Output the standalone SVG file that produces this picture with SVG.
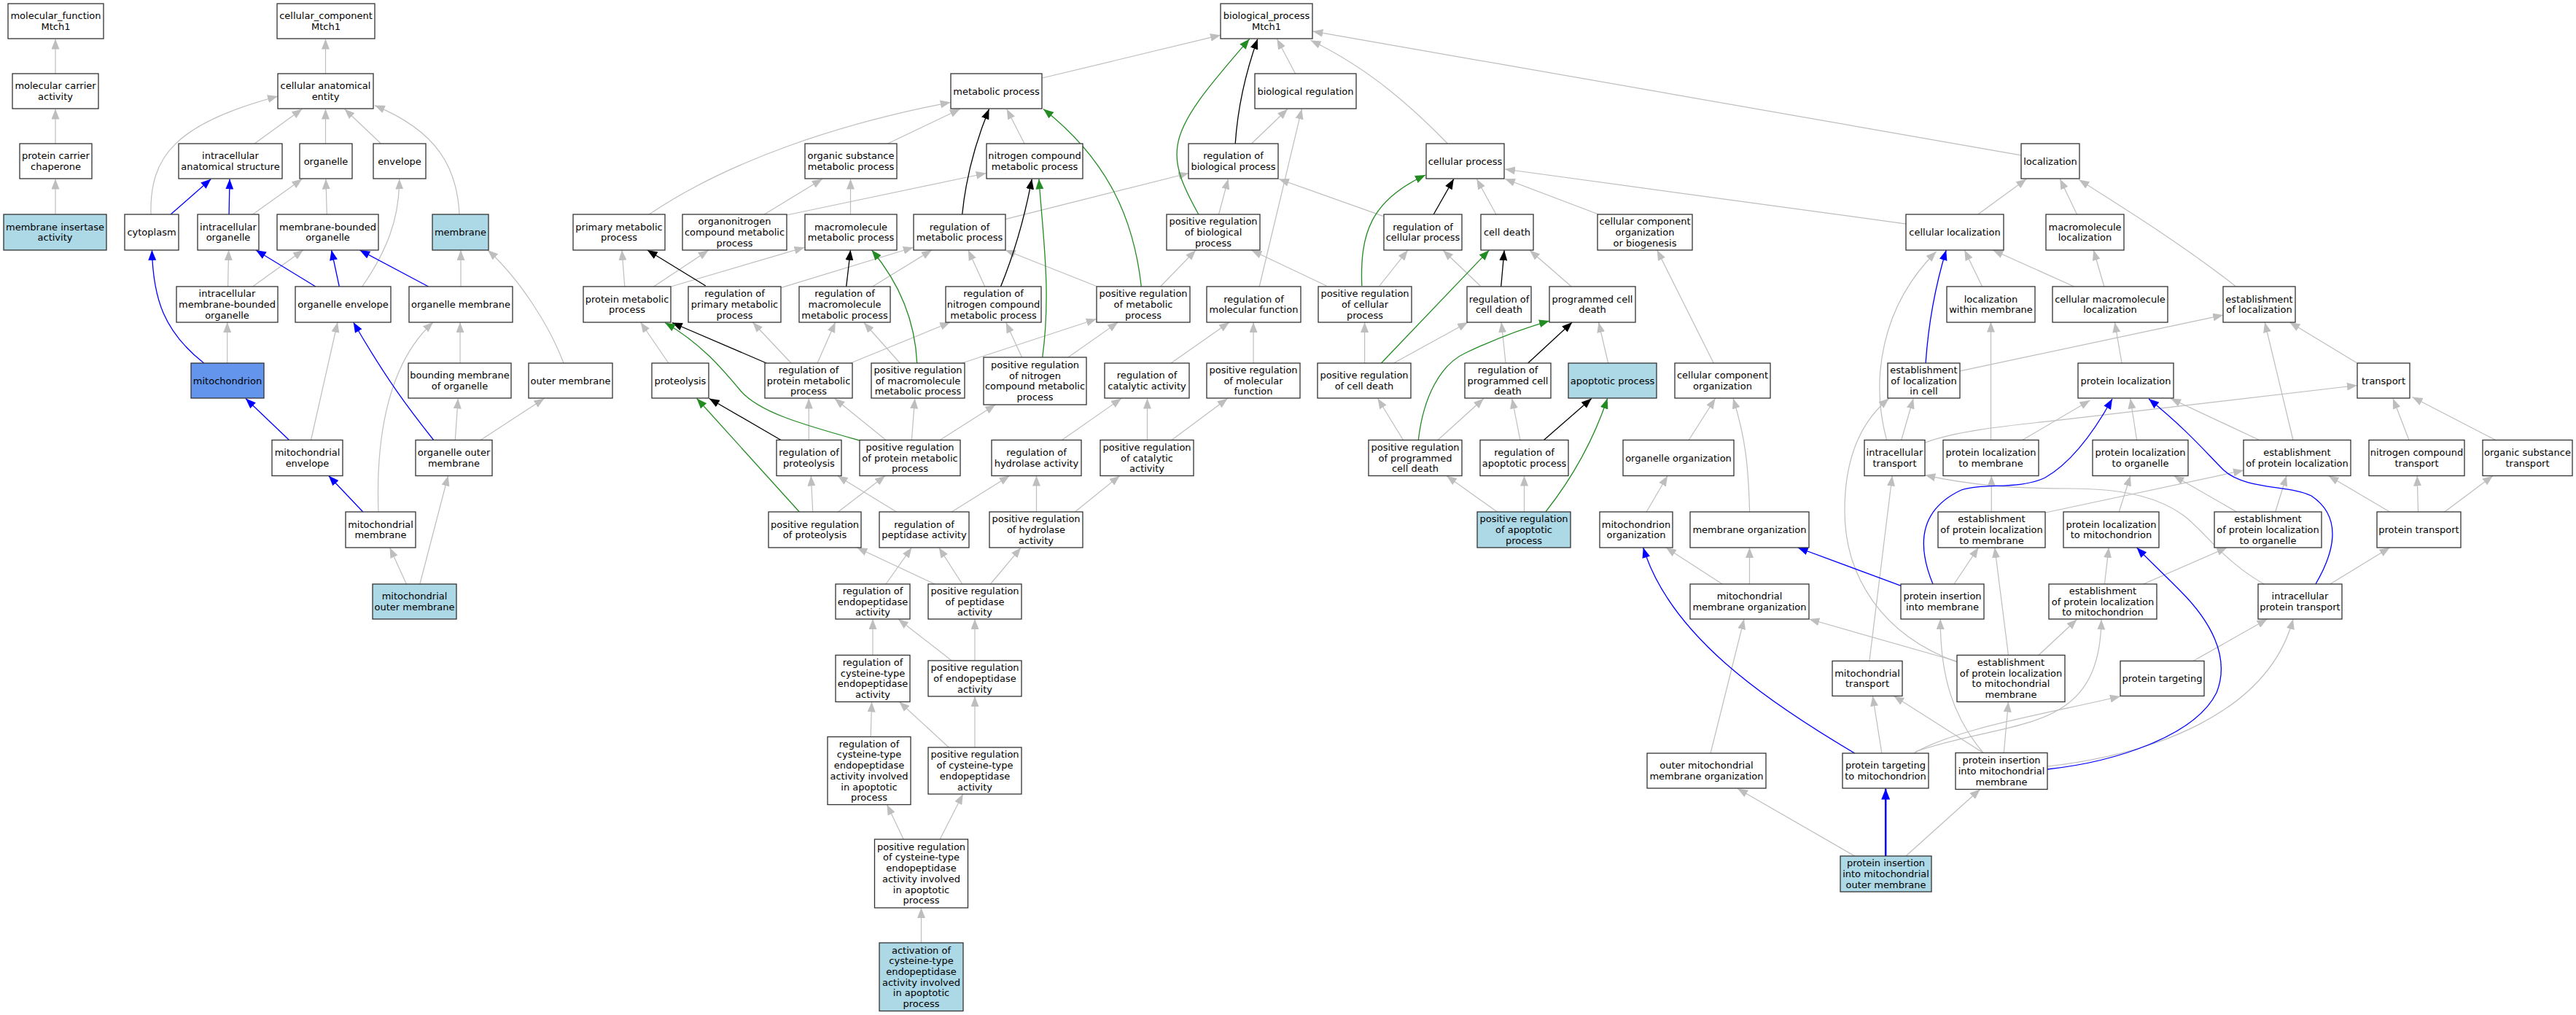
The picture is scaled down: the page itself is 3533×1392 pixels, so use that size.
<svg xmlns="http://www.w3.org/2000/svg" width="3533" height="1392" viewBox="0 0 3533 1392">
<defs>
<marker id="mg" markerUnits="userSpaceOnUse" markerWidth="14" markerHeight="11" refX="14" refY="5.5" orient="auto"><path d="M0,0 L14,5.5 L0,11 Z" fill="#bebebe"/></marker>
<marker id="mb" markerUnits="userSpaceOnUse" markerWidth="14" markerHeight="11" refX="14" refY="5.5" orient="auto"><path d="M0,0 L14,5.5 L0,11 Z" fill="#0000ff"/></marker>
<marker id="mb2" markerUnits="userSpaceOnUse" markerWidth="15" markerHeight="12" refX="15" refY="6" orient="auto"><path d="M0,0 L15,6 L0,12 Z" fill="#0000ff"/></marker>
<marker id="mk" markerUnits="userSpaceOnUse" markerWidth="14" markerHeight="11" refX="14" refY="5.5" orient="auto"><path d="M0,0 L14,5.5 L0,11 Z" fill="#000000"/></marker>
<marker id="mgr" markerUnits="userSpaceOnUse" markerWidth="14" markerHeight="11" refX="14" refY="5.5" orient="auto"><path d="M0,0 L14,5.5 L0,11 Z" fill="#228b22"/></marker>
</defs>
<style>
.gray path{fill:none;stroke:#bebebe;stroke-width:1.2;marker-end:url(#mg)}
.blue path{fill:none;stroke:#0000ff;stroke-width:1.3;marker-end:url(#mb)}
.blue path.thick{stroke-width:2.5;marker-end:url(#mb2)}
.black path{fill:none;stroke:#000;stroke-width:1.3;marker-end:url(#mk)}
.green path{fill:none;stroke:#228b22;stroke-width:1.3;marker-end:url(#mgr)}
.node rect{fill:#fff;stroke:#333;stroke-width:1.3}
.node.lb rect{fill:#add8e6}
.node.cb rect{fill:#6495ed}
text{font-family:"DejaVu Sans","Liberation Sans",sans-serif;font-size:13px;text-anchor:middle;fill:#000}
</style>
<rect x="0" y="0" width="3533" height="1392" fill="#fff"/>
<g id="connectors">
<g class="gray">
<path d="M76,294 L76,245.5"/>
<path d="M76,197 L76,149.5"/>
<path d="M76,101 L76,53.5"/>
<path d="M446.5,101 L446.5,53.5"/>
<path d="M207,294 C205,215 240,170 381,132"/>
<path d="M349,197 L414.4,149.5"/>
<path d="M446.5,197 L446.5,149.5"/>
<path d="M522.5,197 L472.6,149.5"/>
<path d="M630,294 C627,230 600,180 513.8,144.6"/>
<path d="M346.6,294 L414.4,245.5"/>
<path d="M448.3,294 L446.9,245.5"/>
<path d="M496.8,393 C530,345 548,300 547.7,245.5"/>
<path d="M312.6,393 L313.6,343"/>
<path d="M346.6,393 L415.9,343"/>
<path d="M632,393 L632,343"/>
<path d="M773,498 C755,450 715,385 669,343"/>
<path d="M311.7,498 L311.7,442"/>
<path d="M426.5,603.5 L463,442"/>
<path d="M519,702 C516,620 525,505 594,442"/>
<path d="M557.4,801 L534.6,751"/>
<path d="M575.8,801 L614.6,652.5"/>
<path d="M624.3,603.5 L628.2,546.5"/>
<path d="M659.2,603.5 L746.4,546.5"/>
<path d="M631,498 L631,442"/>
<path d="M890.3,294 C1000,220 1150,170 1303.7,140.3"/>
<path d="M1217.4,197 L1316.8,149.5"/>
<path d="M1405,197 L1380.8,149.5"/>
<path d="M1429.3,107 L1674,48.2"/>
<path d="M1048.3,294 L1127.8,245.5"/>
<path d="M1078.8,295 L1352.7,237.5"/>
<path d="M1166.5,294 L1166.5,245.5"/>
<path d="M1378.8,300.7 L1630.3,237.5"/>
<path d="M856.8,393 L852.9,343"/>
<path d="M896.6,393 L971.7,343.2"/>
<path d="M920.3,393 L1103.5,339.2"/>
<path d="M1071,394.6 L1252.8,339.2"/>
<path d="M1196.6,393 L1278,343"/>
<path d="M1350.7,393 L1327.9,343"/>
<path d="M1503.8,392.5 L1378.8,343"/>
<path d="M1319.2,498 L1503.8,437.5"/>
<path d="M1464.6,490.3 L1533.3,442"/>
<path d="M1234.4,498 L1185,442.5"/>
<path d="M1401.6,490.3 L1379.8,442.5"/>
<path d="M1085.1,498 L1032.3,442"/>
<path d="M1121,498 L1145.7,442"/>
<path d="M1166.5,498 L1303.2,442"/>
<path d="M916.9,498 L878.6,442"/>
<path d="M1109.3,603.5 L1109.3,546.5"/>
<path d="M1215,603.5 L1144.7,546.5"/>
<path d="M1250.4,603.5 L1254.7,546.5"/>
<path d="M1289.2,603.5 L1365.3,555"/>
<path d="M1456.4,603.5 L1538,546.5"/>
<path d="M1114.7,702 L1112.3,652.5"/>
<path d="M1149.6,702 L1214,652.5"/>
<path d="M1229.5,702 L1148.6,652.5"/>
<path d="M1305.2,702 L1384.6,652.5"/>
<path d="M1421.5,702 L1421.5,652.5"/>
<path d="M1474.3,702 L1535.7,652.5"/>
<path d="M1215,801 L1250.4,751"/>
<path d="M1281.9,801 L1175.3,751"/>
<path d="M1319.7,801 L1287.7,751"/>
<path d="M1358.5,801 L1400.2,751"/>
<path d="M1197,898.5 L1197,849"/>
<path d="M1305.2,906 L1232,849"/>
<path d="M1337,906 L1337,849"/>
<path d="M1194.2,1010.5 L1195.6,962.5"/>
<path d="M1301.3,1025 L1233.4,962.5"/>
<path d="M1337,1025 L1337,955"/>
<path d="M1239.2,1151 L1216.5,1103.5"/>
<path d="M1289.2,1151 L1320.7,1089"/>
<path d="M1263.5,1293 L1263.5,1245"/>
<path d="M1776.6,101 L1751.4,53.5"/>
<path d="M1985.5,197 C1940,150 1880,95 1797.5,55.3"/>
<path d="M2771.5,212.8 L1800.4,42.9"/>
<path d="M1716.5,197 L1766,149.5"/>
<path d="M1727.2,393 L1785.4,149.5"/>
<path d="M1671.5,294 L1684.5,245.5"/>
<path d="M1591.5,393 L1640,343.2"/>
<path d="M1819.3,392 L1716.5,343.2"/>
<path d="M1896.8,296.4 L1753.9,245.5"/>
<path d="M2051.9,294 L2025.3,245.5"/>
<path d="M2192.5,294 L2064,245.3"/>
<path d="M2614.4,307.1 L2064,232"/>
<path d="M1892,392 L1930.8,343.2"/>
<path d="M2030.1,392 L1979.2,343.2"/>
<path d="M2155.2,393 L2098,343.2"/>
<path d="M1871.6,498 L1871.6,442"/>
<path d="M1911.4,498 L2013.2,442"/>
<path d="M2065,498 L2059.2,442"/>
<path d="M2205.6,498 L2192.5,442"/>
<path d="M1719,498 L1719,442"/>
<path d="M1606,498 L1686,442"/>
<path d="M1573.5,603.5 L1573.5,546.5"/>
<path d="M1607,603.5 L1683.6,546.5"/>
<path d="M1924.5,603.5 L1889.6,546.5"/>
<path d="M1972,603.5 L2035,546.5"/>
<path d="M2084.9,603.5 L2073.8,546.5"/>
<path d="M2053.4,702 L1984,652.5"/>
<path d="M2090.5,702 L2090.5,652.5"/>
<path d="M2350.3,498 L2272.7,343"/>
<path d="M2712.8,294 L2779.2,245.5"/>
<path d="M2848.5,294 L2825.3,245.5"/>
<path d="M3066.5,393 C3000,340 2920,290 2851.4,246.4"/>
<path d="M2718.6,393 L2694.4,343"/>
<path d="M2844.7,393 L2733.2,343"/>
<path d="M2885.9,393 L2871.3,343"/>
<path d="M2587.6,603.5 C2565,520 2580,420 2655.6,345"/>
<path d="M2688.1,508.9 L3049.2,432.1"/>
<path d="M2910.1,498 L2900.4,442"/>
<path d="M3232.9,498 L3140.4,442"/>
<path d="M2640.3,607 C2680,592 2740,585 2820,576.7 L3232.9,528.5"/>
<path d="M2773.7,603.5 L2866.5,549"/>
<path d="M2930.6,603.5 L2921.8,546.5"/>
<path d="M3098.6,603.5 L2977,546.5"/>
<path d="M3145,603.5 L3106.2,442"/>
<path d="M3304,603.5 L3282,546.5"/>
<path d="M3422.6,603.5 L3308.5,544.5"/>
<path d="M2906.3,702 L2921.8,652.5"/>
<path d="M3067.6,702 L2981.4,652.5"/>
<path d="M2805.4,703 L3077,645"/>
<path d="M3120.7,702 L3136,652.5"/>
<path d="M3277.6,702 L3193.6,652.5"/>
<path d="M3316.5,702 L3315.2,652.5"/>
<path d="M3352.7,702 L3419,652.5"/>
<path d="M3195.8,801 L3277.6,751"/>
<path d="M2939.5,801 L3054.4,751"/>
<path d="M2886.4,801 L2892.2,751"/>
<path d="M2808,1051 C2950,1035 3110,980 3145,849"/>
<path d="M3008,906.5 L3109.6,849"/>
<path d="M2625,1033 C2680,1000 2800,980 2908,955"/>
<path d="M2626.4,1031 C2760,985 2880,1010 2882,849.5"/>
<path d="M2796,898.5 L2848.5,849.5"/>
<path d="M3105.2,801 C3050,770 3025,730 2995,707 C2965,685 2920,670 2840,670 C2760,670 2700,665 2640.3,651.6"/>
<path d="M2730.5,603.5 L2730.5,441.5"/>
<path d="M2731.3,702 L2731.3,652.5"/>
<path d="M2607.7,603.5 L2624.2,546.5"/>
<path d="M2684.4,908.3 C2580,870 2530,790 2530,700 C2530,630 2550,580 2590.7,546.5"/>
<path d="M2316.2,603.5 L2352.5,546.5"/>
<path d="M2399.6,702 C2398,640 2394,600 2377,546.5"/>
<path d="M2258.1,702 L2287.1,652.5"/>
<path d="M2362.1,801 L2284.9,751"/>
<path d="M2399.5,801 L2399.5,751"/>
<path d="M2680,801 L2713.4,751"/>
<path d="M2684.4,907 L2481.3,849"/>
<path d="M2754.5,898.5 L2735.8,751"/>
<path d="M2346,1033 L2392,849"/>
<path d="M2580.9,1033 L2568.4,954.5"/>
<path d="M2563.9,906.5 L2595.2,652.5"/>
<path d="M2720.1,1032.5 L2597.4,954.5"/>
<path d="M2720.1,1032.5 C2680,985 2661,930 2661.2,849"/>
<path d="M2748.3,1032.5 L2754.5,962.5"/>
<path d="M2543.8,1174 L2383.1,1081.5"/>
<path d="M2613.9,1174 L2715.7,1082.5"/>
</g>
<g class="blue">
<path d="M279.7,498 C225,455 210,410 208.4,343"/>
<path d="M234.1,294 L289.4,245.5"/>
<path d="M314.1,294 L315,245.5"/>
<path d="M432.8,393 L350.9,343"/>
<path d="M465.3,393 L454.6,343"/>
<path d="M587.5,393 L493.4,343"/>
<path d="M396.5,603.5 L336.9,546.5"/>
<path d="M594.7,603.5 C560,560 530,520 484.7,442"/>
<path d="M497.8,702 L450.8,652.5"/>
<path d="M2641.1,498 C2645,440 2655,390 2669.2,343"/>
<path d="M2651,801 C2630,750 2630,700 2690,672 C2720,662 2770,672 2805,655 C2840,635 2872,592 2897,547"/>
<path d="M3175.9,801 C3200,760 3215,710 3170,680 C3140,665 3080,672 3050,645 C3025,620 3000,590 2947,547"/>
<path d="M2808,1055 C2900,1045 3010,1010 3040,950 C3060,900 3030,850 2990,810 C2960,780 2945,766 2930.6,751"/>
<path d="M2607.2,803.4 L2465.7,751"/>
<path d="M2543.8,1033 C2420,960 2290,870 2253.7,751"/>
<path class="thick" d="M2586.2,1174 L2586.2,1081.5"/>
</g>
<g class="black">
<path d="M1319.7,294 C1325,240 1340,190 1356.5,149.5"/>
<path d="M967.8,392 L887.8,343"/>
<path d="M1160.7,393 L1166.5,343"/>
<path d="M1372.5,393 C1390,350 1405,300 1415.2,245.5"/>
<path d="M1051.2,498 L921.8,442.5"/>
<path d="M1071,603.5 L972.7,546.5"/>
<path d="M1694.2,197 C1698,140 1710,95 1724.8,53.5"/>
<path d="M1966.2,294 L1993.8,245.5"/>
<path d="M2058.7,393 L2063.1,343.2"/>
<path d="M2095.6,498 L2156.2,442"/>
<path d="M2117.4,603.5 L2182.8,546.5"/>
</g>
<g class="green">
<path d="M1565.3,393 C1555,300 1520,220 1431,149.5"/>
<path d="M1257.7,498 C1255,440 1235,390 1195.6,343"/>
<path d="M1429.7,490.3 C1442,400 1430,320 1424.9,245.5"/>
<path d="M1178.7,604 C1100,582 1040,565 1015,535 C990,505 960,470 912,442.5"/>
<path d="M1096.3,702 L955.7,546.5"/>
<path d="M1643.8,294 C1625,260 1610,230 1615,200 C1620,160 1665,110 1713.6,53.5"/>
<path d="M1867.8,392 C1865,320 1880,275 1955,240"/>
<path d="M1894.4,498 L2042.3,343.2"/>
<path d="M1945.3,603.5 C1952,545 1975,500 2010,484 C2050,465 2090,450 2125,440"/>
<path d="M2119.8,702 C2145,670 2180,620 2204.6,546.5"/>
</g>
</g>
<g id="n1" class="node"><rect x="11" y="5" width="131" height="48"/><text x="76.5" y="26.15">molecular_function<tspan x="76.5" dy="14.7">Mtch1</tspan></text></g>
<g id="n2" class="node"><rect x="380" y="5" width="134" height="48"/><text x="447" y="26.15">cellular_component<tspan x="447" dy="14.7">Mtch1</tspan></text></g>
<g id="n3" class="node"><rect x="1674" y="5" width="126" height="48"/><text x="1737" y="26.15">biological_process<tspan x="1737" dy="14.7">Mtch1</tspan></text></g>
<g id="n4" class="node"><rect x="17" y="101" width="118" height="48"/><text x="76" y="122.15">molecular carrier<tspan x="76" dy="14.7">activity</tspan></text></g>
<g id="n5" class="node"><rect x="381" y="101" width="131" height="48"/><text x="446.5" y="122.15">cellular anatomical<tspan x="446.5" dy="14.7">entity</tspan></text></g>
<g id="n6" class="node"><rect x="1304" y="101" width="125" height="48"/><text x="1366.5" y="129.5">metabolic process</text></g>
<g id="n7" class="node"><rect x="1721" y="101" width="139" height="48"/><text x="1790.5" y="129.5">biological regulation</text></g>
<g id="n8" class="node"><rect x="27" y="197" width="99" height="48"/><text x="76.5" y="218.15">protein carrier<tspan x="76.5" dy="14.7">chaperone</tspan></text></g>
<g id="n9" class="node"><rect x="245" y="197" width="142" height="48"/><text x="316" y="218.15">intracellular<tspan x="316" dy="14.7">anatomical structure</tspan></text></g>
<g id="n10" class="node"><rect x="411" y="197" width="72" height="48"/><text x="447" y="225.5">organelle</text></g>
<g id="n11" class="node"><rect x="512" y="197" width="72" height="48"/><text x="548" y="225.5">envelope</text></g>
<g id="n12" class="node"><rect x="1104" y="197" width="126" height="48"/><text x="1167" y="218.15">organic substance<tspan x="1167" dy="14.7">metabolic process</tspan></text></g>
<g id="n13" class="node"><rect x="1353" y="197" width="132" height="48"/><text x="1419" y="218.15">nitrogen compound<tspan x="1419" dy="14.7">metabolic process</tspan></text></g>
<g id="n14" class="node"><rect x="1630" y="197" width="123" height="48"/><text x="1691.5" y="218.15">regulation of<tspan x="1691.5" dy="14.7">biological process</tspan></text></g>
<g id="n15" class="node"><rect x="1956" y="197" width="107" height="48"/><text x="2009.5" y="225.5">cellular process</text></g>
<g id="n16" class="node"><rect x="2772" y="197" width="80" height="48"/><text x="2812" y="225.5">localization</text></g>
<g id="n17" class="node lb"><rect x="5" y="294" width="141" height="49"/><text x="75.5" y="315.65">membrane insertase<tspan x="75.5" dy="14.7">activity</tspan></text></g>
<g id="n18" class="node"><rect x="171" y="294" width="74" height="49"/><text x="208" y="323">cytoplasm</text></g>
<g id="n19" class="node"><rect x="271" y="294" width="84" height="49"/><text x="313" y="315.65">intracellular<tspan x="313" dy="14.7">organelle</tspan></text></g>
<g id="n20" class="node"><rect x="380" y="294" width="139" height="49"/><text x="449.5" y="315.65">membrane-bounded<tspan x="449.5" dy="14.7">organelle</tspan></text></g>
<g id="n21" class="node lb"><rect x="593" y="294" width="77" height="49"/><text x="631.5" y="323">membrane</text></g>
<g id="n22" class="node"><rect x="786" y="294" width="126" height="49"/><text x="849" y="315.65">primary metabolic<tspan x="849" dy="14.7">process</tspan></text></g>
<g id="n23" class="node"><rect x="936" y="294" width="143" height="49"/><text x="1007.5" y="308.3">organonitrogen<tspan x="1007.5" dy="14.7">compound metabolic</tspan><tspan x="1007.5" dy="14.7">process</tspan></text></g>
<g id="n24" class="node"><rect x="1104" y="294" width="126" height="49"/><text x="1167" y="315.65">macromolecule<tspan x="1167" dy="14.7">metabolic process</tspan></text></g>
<g id="n25" class="node"><rect x="1253" y="294" width="126" height="49"/><text x="1316" y="315.65">regulation of<tspan x="1316" dy="14.7">metabolic process</tspan></text></g>
<g id="n26" class="node"><rect x="1600" y="294" width="128" height="49"/><text x="1664" y="308.3">positive regulation<tspan x="1664" dy="14.7">of biological</tspan><tspan x="1664" dy="14.7">process</tspan></text></g>
<g id="n27" class="node"><rect x="1898" y="294" width="107" height="49"/><text x="1951.5" y="315.65">regulation of<tspan x="1951.5" dy="14.7">cellular process</tspan></text></g>
<g id="n28" class="node"><rect x="2031" y="294" width="72" height="49"/><text x="2067" y="323">cell death</text></g>
<g id="n29" class="node"><rect x="2191" y="294" width="130" height="49"/><text x="2256" y="308.3">cellular component<tspan x="2256" dy="14.7">organization</tspan><tspan x="2256" dy="14.7">or biogenesis</tspan></text></g>
<g id="n30" class="node"><rect x="2614" y="294" width="134" height="49"/><text x="2681" y="323">cellular localization</text></g>
<g id="n31" class="node"><rect x="2806" y="294" width="107" height="49"/><text x="2859.5" y="315.65">macromolecule<tspan x="2859.5" dy="14.7">localization</tspan></text></g>
<g id="n32" class="node"><rect x="242" y="393" width="139" height="49"/><text x="311.5" y="407.3">intracellular<tspan x="311.5" dy="14.7">membrane-bounded</tspan><tspan x="311.5" dy="14.7">organelle</tspan></text></g>
<g id="n33" class="node"><rect x="405" y="393" width="131" height="49"/><text x="470.5" y="422">organelle envelope</text></g>
<g id="n34" class="node"><rect x="561" y="393" width="142" height="49"/><text x="632" y="422">organelle membrane</text></g>
<g id="n35" class="node"><rect x="800" y="393" width="120" height="49"/><text x="860" y="414.65">protein metabolic<tspan x="860" dy="14.7">process</tspan></text></g>
<g id="n36" class="node"><rect x="944" y="393" width="127" height="49"/><text x="1007.5" y="407.3">regulation of<tspan x="1007.5" dy="14.7">primary metabolic</tspan><tspan x="1007.5" dy="14.7">process</tspan></text></g>
<g id="n37" class="node"><rect x="1096" y="393" width="125" height="49"/><text x="1158.5" y="407.3">regulation of<tspan x="1158.5" dy="14.7">macromolecule</tspan><tspan x="1158.5" dy="14.7">metabolic process</tspan></text></g>
<g id="n38" class="node"><rect x="1297" y="393" width="131" height="49"/><text x="1362.5" y="407.3">regulation of<tspan x="1362.5" dy="14.7">nitrogen compound</tspan><tspan x="1362.5" dy="14.7">metabolic process</tspan></text></g>
<g id="n39" class="node"><rect x="1504" y="393" width="128" height="49"/><text x="1568" y="407.3">positive regulation<tspan x="1568" dy="14.7">of metabolic</tspan><tspan x="1568" dy="14.7">process</tspan></text></g>
<g id="n40" class="node"><rect x="1655" y="393" width="129" height="49"/><text x="1719.5" y="414.65">regulation of<tspan x="1719.5" dy="14.7">molecular function</tspan></text></g>
<g id="n41" class="node"><rect x="1808" y="393" width="128" height="49"/><text x="1872" y="407.3">positive regulation<tspan x="1872" dy="14.7">of cellular</tspan><tspan x="1872" dy="14.7">process</tspan></text></g>
<g id="n42" class="node"><rect x="2012" y="393" width="88" height="49"/><text x="2056" y="414.65">regulation of<tspan x="2056" dy="14.7">cell death</tspan></text></g>
<g id="n43" class="node"><rect x="2125" y="393" width="118" height="49"/><text x="2184" y="414.65">programmed cell<tspan x="2184" dy="14.7">death</tspan></text></g>
<g id="n44" class="node"><rect x="2670" y="393" width="121" height="49"/><text x="2730.5" y="414.65">localization<tspan x="2730.5" dy="14.7">within membrane</tspan></text></g>
<g id="n45" class="node"><rect x="2815" y="393" width="158" height="49"/><text x="2894" y="414.65">cellular macromolecule<tspan x="2894" dy="14.7">localization</tspan></text></g>
<g id="n46" class="node"><rect x="3049" y="393" width="99" height="49"/><text x="3098.5" y="414.65">establishment<tspan x="3098.5" dy="14.7">of localization</tspan></text></g>
<g id="n47" class="node cb"><rect x="262" y="498" width="100" height="48"/><text x="312" y="526.5">mitochondrion</text></g>
<g id="n48" class="node"><rect x="560" y="498" width="141" height="48"/><text x="630.5" y="519.15">bounding membrane<tspan x="630.5" dy="14.7">of organelle</tspan></text></g>
<g id="n49" class="node"><rect x="725" y="498" width="115" height="48"/><text x="782.5" y="526.5">outer membrane</text></g>
<g id="n50" class="node"><rect x="894" y="498" width="78" height="48"/><text x="933" y="526.5">proteolysis</text></g>
<g id="n51" class="node"><rect x="1049" y="498" width="120" height="48"/><text x="1109" y="511.8">regulation of<tspan x="1109" dy="14.7">protein metabolic</tspan><tspan x="1109" dy="14.7">process</tspan></text></g>
<g id="n52" class="node"><rect x="1195" y="498" width="128" height="48"/><text x="1259" y="511.8">positive regulation<tspan x="1259" dy="14.7">of macromolecule</tspan><tspan x="1259" dy="14.7">metabolic process</tspan></text></g>
<g id="n53" class="node"><rect x="1349" y="490" width="141" height="65"/><text x="1419.5" y="504.95">positive regulation<tspan x="1419.5" dy="14.7">of nitrogen</tspan><tspan x="1419.5" dy="14.7">compound metabolic</tspan><tspan x="1419.5" dy="14.7">process</tspan></text></g>
<g id="n54" class="node"><rect x="1515" y="498" width="116" height="48"/><text x="1573" y="519.15">regulation of<tspan x="1573" dy="14.7">catalytic activity</tspan></text></g>
<g id="n55" class="node"><rect x="1655" y="498" width="128" height="48"/><text x="1719" y="511.8">positive regulation<tspan x="1719" dy="14.7">of molecular</tspan><tspan x="1719" dy="14.7">function</tspan></text></g>
<g id="n56" class="node"><rect x="1807" y="498" width="128" height="48"/><text x="1871" y="519.15">positive regulation<tspan x="1871" dy="14.7">of cell death</tspan></text></g>
<g id="n57" class="node"><rect x="2009" y="498" width="118" height="48"/><text x="2068" y="511.8">regulation of<tspan x="2068" dy="14.7">programmed cell</tspan><tspan x="2068" dy="14.7">death</tspan></text></g>
<g id="n58" class="node lb"><rect x="2151" y="498" width="121" height="48"/><text x="2211.5" y="526.5">apoptotic process</text></g>
<g id="n59" class="node"><rect x="2297" y="498" width="131" height="48"/><text x="2362.5" y="519.15">cellular component<tspan x="2362.5" dy="14.7">organization</tspan></text></g>
<g id="n60" class="node"><rect x="2589" y="498" width="99" height="48"/><text x="2638.5" y="511.8">establishment<tspan x="2638.5" dy="14.7">of localization</tspan><tspan x="2638.5" dy="14.7">in cell</tspan></text></g>
<g id="n61" class="node"><rect x="2850" y="498" width="131" height="48"/><text x="2915.5" y="526.5">protein localization</text></g>
<g id="n62" class="node"><rect x="3233" y="498" width="72" height="48"/><text x="3269" y="526.5">transport</text></g>
<g id="n63" class="node"><rect x="373" y="603.5" width="97" height="49"/><text x="421.5" y="625.15">mitochondrial<tspan x="421.5" dy="14.7">envelope</tspan></text></g>
<g id="n64" class="node"><rect x="570" y="603.5" width="105" height="49"/><text x="622.5" y="625.15">organelle outer<tspan x="622.5" dy="14.7">membrane</tspan></text></g>
<g id="n65" class="node"><rect x="1065" y="603.5" width="89" height="49"/><text x="1109.5" y="625.15">regulation of<tspan x="1109.5" dy="14.7">proteolysis</tspan></text></g>
<g id="n66" class="node"><rect x="1179" y="603.5" width="138" height="49"/><text x="1248" y="617.8">positive regulation<tspan x="1248" dy="14.7">of protein metabolic</tspan><tspan x="1248" dy="14.7">process</tspan></text></g>
<g id="n67" class="node"><rect x="1360" y="603.5" width="123" height="49"/><text x="1421.5" y="625.15">regulation of<tspan x="1421.5" dy="14.7">hydrolase activity</tspan></text></g>
<g id="n68" class="node"><rect x="1509" y="603.5" width="128" height="49"/><text x="1573" y="617.8">positive regulation<tspan x="1573" dy="14.7">of catalytic</tspan><tspan x="1573" dy="14.7">activity</tspan></text></g>
<g id="n69" class="node"><rect x="1877" y="603.5" width="128" height="49"/><text x="1941" y="617.8">positive regulation<tspan x="1941" dy="14.7">of programmed</tspan><tspan x="1941" dy="14.7">cell death</tspan></text></g>
<g id="n70" class="node"><rect x="2030" y="603.5" width="121" height="49"/><text x="2090.5" y="625.15">regulation of<tspan x="2090.5" dy="14.7">apoptotic process</tspan></text></g>
<g id="n71" class="node"><rect x="2226" y="603.5" width="152" height="49"/><text x="2302" y="632.5">organelle organization</text></g>
<g id="n72" class="node"><rect x="2557" y="603.5" width="83" height="49"/><text x="2598.5" y="625.15">intracellular<tspan x="2598.5" dy="14.7">transport</tspan></text></g>
<g id="n73" class="node"><rect x="2665" y="603.5" width="131" height="49"/><text x="2730.5" y="625.15">protein localization<tspan x="2730.5" dy="14.7">to membrane</tspan></text></g>
<g id="n74" class="node"><rect x="2870" y="603.5" width="131" height="49"/><text x="2935.5" y="625.15">protein localization<tspan x="2935.5" dy="14.7">to organelle</tspan></text></g>
<g id="n75" class="node"><rect x="3077" y="603.5" width="147" height="49"/><text x="3150.5" y="625.15">establishment<tspan x="3150.5" dy="14.7">of protein localization</tspan></text></g>
<g id="n76" class="node"><rect x="3249" y="603.5" width="131" height="49"/><text x="3314.5" y="625.15">nitrogen compound<tspan x="3314.5" dy="14.7">transport</tspan></text></g>
<g id="n77" class="node"><rect x="3405" y="603.5" width="123" height="49"/><text x="3466.5" y="625.15">organic substance<tspan x="3466.5" dy="14.7">transport</tspan></text></g>
<g id="n78" class="node"><rect x="474" y="702" width="96" height="49"/><text x="522" y="723.65">mitochondrial<tspan x="522" dy="14.7">membrane</tspan></text></g>
<g id="n79" class="node"><rect x="1054" y="702" width="127" height="49"/><text x="1117.5" y="723.65">positive regulation<tspan x="1117.5" dy="14.7">of proteolysis</tspan></text></g>
<g id="n80" class="node"><rect x="1206" y="702" width="123" height="49"/><text x="1267.5" y="723.65">regulation of<tspan x="1267.5" dy="14.7">peptidase activity</tspan></text></g>
<g id="n81" class="node"><rect x="1357" y="702" width="128" height="49"/><text x="1421" y="716.3">positive regulation<tspan x="1421" dy="14.7">of hydrolase</tspan><tspan x="1421" dy="14.7">activity</tspan></text></g>
<g id="n82" class="node lb"><rect x="2026" y="702" width="128" height="49"/><text x="2090" y="716.3">positive regulation<tspan x="2090" dy="14.7">of apoptotic</tspan><tspan x="2090" dy="14.7">process</tspan></text></g>
<g id="n83" class="node"><rect x="2194" y="702" width="100" height="49"/><text x="2244" y="723.65">mitochondrion<tspan x="2244" dy="14.7">organization</tspan></text></g>
<g id="n84" class="node"><rect x="2318" y="702" width="163" height="49"/><text x="2399.5" y="731">membrane organization</text></g>
<g id="n85" class="node"><rect x="2658" y="702" width="147" height="49"/><text x="2731.5" y="716.3">establishment<tspan x="2731.5" dy="14.7">of protein localization</tspan><tspan x="2731.5" dy="14.7">to membrane</tspan></text></g>
<g id="n86" class="node"><rect x="2830" y="702" width="131" height="49"/><text x="2895.5" y="723.65">protein localization<tspan x="2895.5" dy="14.7">to mitochondrion</tspan></text></g>
<g id="n87" class="node"><rect x="3037" y="702" width="147" height="49"/><text x="3110.5" y="716.3">establishment<tspan x="3110.5" dy="14.7">of protein localization</tspan><tspan x="3110.5" dy="14.7">to organelle</tspan></text></g>
<g id="n88" class="node"><rect x="3260" y="702" width="115" height="49"/><text x="3317.5" y="731">protein transport</text></g>
<g id="n89" class="node lb"><rect x="511" y="801" width="115" height="48"/><text x="568.5" y="822.15">mitochondrial<tspan x="568.5" dy="14.7">outer membrane</tspan></text></g>
<g id="n90" class="node"><rect x="1146" y="801" width="102" height="48"/><text x="1197" y="814.8">regulation of<tspan x="1197" dy="14.7">endopeptidase</tspan><tspan x="1197" dy="14.7">activity</tspan></text></g>
<g id="n91" class="node"><rect x="1273" y="801" width="128" height="48"/><text x="1337" y="814.8">positive regulation<tspan x="1337" dy="14.7">of peptidase</tspan><tspan x="1337" dy="14.7">activity</tspan></text></g>
<g id="n92" class="node"><rect x="2318" y="801" width="163" height="48"/><text x="2399.5" y="822.15">mitochondrial<tspan x="2399.5" dy="14.7">membrane organization</tspan></text></g>
<g id="n93" class="node"><rect x="2607" y="801" width="114" height="48"/><text x="2664" y="822.15">protein insertion<tspan x="2664" dy="14.7">into membrane</tspan></text></g>
<g id="n94" class="node"><rect x="2810" y="801" width="148" height="48"/><text x="2884" y="814.8">establishment<tspan x="2884" dy="14.7">of protein localization</tspan><tspan x="2884" dy="14.7">to mitochondrion</tspan></text></g>
<g id="n95" class="node"><rect x="3097" y="801" width="115" height="48"/><text x="3154.5" y="822.15">intracellular<tspan x="3154.5" dy="14.7">protein transport</tspan></text></g>
<g id="n96" class="node"><rect x="1146" y="898.5" width="102" height="64"/><text x="1197" y="912.95">regulation of<tspan x="1197" dy="14.7">cysteine-type</tspan><tspan x="1197" dy="14.7">endopeptidase</tspan><tspan x="1197" dy="14.7">activity</tspan></text></g>
<g id="n97" class="node"><rect x="1273" y="906" width="128" height="49"/><text x="1337" y="920.3">positive regulation<tspan x="1337" dy="14.7">of endopeptidase</tspan><tspan x="1337" dy="14.7">activity</tspan></text></g>
<g id="n98" class="node"><rect x="2513" y="906.5" width="96" height="48"/><text x="2561" y="927.65">mitochondrial<tspan x="2561" dy="14.7">transport</tspan></text></g>
<g id="n99" class="node"><rect x="2684" y="898.5" width="148" height="64"/><text x="2758" y="912.95">establishment<tspan x="2758" dy="14.7">of protein localization</tspan><tspan x="2758" dy="14.7">to mitochondrial</tspan><tspan x="2758" dy="14.7">membrane</tspan></text></g>
<g id="n100" class="node"><rect x="2908" y="906.5" width="115" height="48"/><text x="2965.5" y="935">protein targeting</text></g>
<g id="n101" class="node"><rect x="1135" y="1010.5" width="114" height="93"/><text x="1192" y="1024.75">regulation of<tspan x="1192" dy="14.7">cysteine-type</tspan><tspan x="1192" dy="14.7">endopeptidase</tspan><tspan x="1192" dy="14.7">activity involved</tspan><tspan x="1192" dy="14.7">in apoptotic</tspan><tspan x="1192" dy="14.7">process</tspan></text></g>
<g id="n102" class="node"><rect x="1273" y="1025" width="128" height="64"/><text x="1337" y="1039.45">positive regulation<tspan x="1337" dy="14.7">of cysteine-type</tspan><tspan x="1337" dy="14.7">endopeptidase</tspan><tspan x="1337" dy="14.7">activity</tspan></text></g>
<g id="n103" class="node"><rect x="2259" y="1033" width="163" height="48"/><text x="2340.5" y="1054.15">outer mitochondrial<tspan x="2340.5" dy="14.7">membrane organization</tspan></text></g>
<g id="n104" class="node"><rect x="2527" y="1033" width="118" height="48"/><text x="2586" y="1054.15">protein targeting<tspan x="2586" dy="14.7">to mitochondrion</tspan></text></g>
<g id="n105" class="node"><rect x="2682" y="1032.5" width="126" height="50"/><text x="2745" y="1047.3">protein insertion<tspan x="2745" dy="14.7">into mitochondrial</tspan><tspan x="2745" dy="14.7">membrane</tspan></text></g>
<g id="n106" class="node"><rect x="1199.5" y="1151" width="128" height="94"/><text x="1263.5" y="1165.75">positive regulation<tspan x="1263.5" dy="14.7">of cysteine-type</tspan><tspan x="1263.5" dy="14.7">endopeptidase</tspan><tspan x="1263.5" dy="14.7">activity involved</tspan><tspan x="1263.5" dy="14.7">in apoptotic</tspan><tspan x="1263.5" dy="14.7">process</tspan></text></g>
<g id="n107" class="node lb"><rect x="2524" y="1174" width="125" height="49"/><text x="2586.5" y="1188.3">protein insertion<tspan x="2586.5" dy="14.7">into mitochondrial</tspan><tspan x="2586.5" dy="14.7">outer membrane</tspan></text></g>
<g id="n108" class="node lb"><rect x="1206" y="1293" width="115" height="93.5"/><text x="1263.5" y="1307.5">activation of<tspan x="1263.5" dy="14.7">cysteine-type</tspan><tspan x="1263.5" dy="14.7">endopeptidase</tspan><tspan x="1263.5" dy="14.7">activity involved</tspan><tspan x="1263.5" dy="14.7">in apoptotic</tspan><tspan x="1263.5" dy="14.7">process</tspan></text></g>
</svg>
